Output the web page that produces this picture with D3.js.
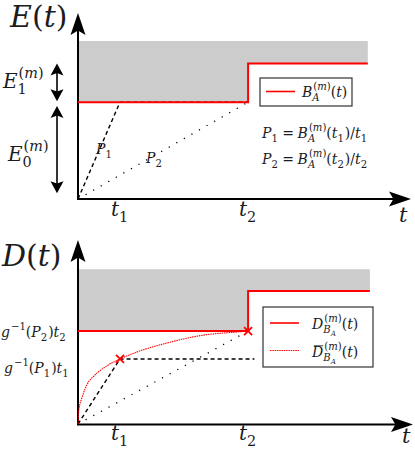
<!DOCTYPE html>
<html><head><meta charset="utf-8">
<script src="https://cdn.jsdelivr.net/npm/d3@7"></script>
<style>body{margin:0;background:#fff} svg{display:block} text{font-family:"DejaVu Serif",serif}</style>
</head><body>
<script>
// values (time and levels in arbitrary units)
const tMarks = [1, 4.05];          // t1, t2
const tNames = ["1", "2"];
// upper panel: B_A^(m)(t) step and the capacity band
const eStep = [[0, 5], [4.05, 5], [4.05, 7], [6.9, 7]];
const eCap = 8.15;
const eP1 = [[0, 0], [1, 5], [4.05, 5]];
const eP2 = [[0, 0], [4.05, 5]];
const eArrows = [[7, 5.05], [4.8, 0.3]];   // E1, E0 spans
// lower panel: D_BA^(m)(t), its smooth version and the two rates
const dStep = [[0, 5], [4.05, 5], [4.05, 7.15], [6.95, 7.15]];
const dCap = 8.33;
const dBar = [[0, 0], [0.02, 0.75], [0.1, 1.45], [0.21, 2.1], [0.4, 2.63], [0.6, 3.0],
  [1, 3.5], [1.4, 3.87], [2.19, 4.4], [2.98, 4.78], [3.79, 4.95], [4.05, 5]];
const dP1 = [[0, 0], [1, 3.5], [4.2, 3.5]];
const dP2 = [[0, 0], [4.05, 5]];
const dCross = [[1, 3.5], [4.05, 5]];
const dLevels = [5, 3.5];          // g^-1(P2)t2, g^-1(P1)t1

const W = 415, H = 449;
const RED = "#ff0000", GRAY = "#cccccc";

const svg = d3.select("body").append("svg").attr("width", W).attr("height", H);

const x = d3.scaleLinear().domain([0, 8]).range([78, 414]);
const yE = d3.scaleLinear().domain([0, 9.6]).range([199, 13]);
const yD = d3.scaleLinear().domain([0, 9.9]).range([424, 240]);

// --- small math-text layout helper ---
const i = s => ({t: s, i: true});
const n = s => ({t: s});
const ss = (sub, sup) => ({sub, sup});
const gap = k => ({gap: k});
const M = [n("("), i("m"), n(")")];

function put(g, px, py, s, fs, italic) {
  const t = g.append("text").attr("x", px).attr("y", py)
    .attr("font-size", fs)
    .attr("font-style", italic ? "italic" : "normal")
    .attr("fill", "#1c1c1c").text(s);
  return t.node().getComputedTextLength();
}
function layout(g, items, px, py, fs) {
  let cx = px;
  for (const it of items) {
    if (it.gap) { cx += it.gap * fs; continue; }
    if (it.sub || it.sup) {
      let w = 0;
      if (it.sup) w = Math.max(w, layout(g, it.sup, cx + 1, py - fs * 0.5, fs * 0.72));
      if (it.sub) w = Math.max(w, layout(g, it.sub, cx, py + fs * 0.28, fs * 0.72));
      cx += w + 1;
    } else {
      const w = put(g, cx, py, it.t, fs, it.i);
      if (it.bar) g.append("line").attr("x1", cx + 2).attr("x2", cx + w)
        .attr("y1", py - fs * 0.8).attr("y2", py - fs * 0.8)
        .attr("stroke", "#111").attr("stroke-width", 0.8);
      cx += w;
    }
  }
  return cx - px;
}
function mathLabel(px, py, items, fs, anchor) {
  const g = svg.append("g");
  const w = layout(g, items, 0, 0, fs);
  const dx = anchor === "middle" ? -w / 2 : anchor === "end" ? -w : 0;
  g.attr("transform", `translate(${px + dx},${py})`);
}

function arrowHead(px, py, dir, len, hw) {
  const p = dir === "up" ? [[px, py], [px - hw, py + len], [px, py + len * 0.8], [px + hw, py + len]]
    : dir === "down" ? [[px, py], [px - hw, py - len], [px, py - len * 0.8], [px + hw, py - len]]
    : [[px, py], [px - len, py - hw], [px - len * 0.8, py], [px - len, py + hw]];
  svg.append("path").attr("d", d3.line()(p) + "Z").attr("fill", "#000");
}

const line = (ys) => d3.line().x(d => x(d[0])).y(d => ys(d[1]));

function panel(ys, step, cap, top, bottomY, axisEnd) {
  // capacity band above the step
  svg.append("path").datum(step)
    .attr("d", d3.area().x(d => x(d[0])).y0(ys(cap)).y1(d => ys(d[1])))
    .attr("fill", GRAY);
  // axes
  svg.append("line").attr("x1", x(0)).attr("x2", x(0)).attr("y1", bottomY).attr("y2", top + 15)
    .attr("stroke", "#000").attr("stroke-width", 2);
  svg.append("line").attr("x1", x(0) - 1).attr("x2", axisEnd - 15).attr("y1", bottomY).attr("y2", bottomY)
    .attr("stroke", "#000").attr("stroke-width", 2);
  arrowHead(x(0), top, "up", 22, 7.5);
  arrowHead(axisEnd, bottomY, "right", 22, 7.5);
}

// ---------- upper panel ----------
panel(yE, eStep, eCap, 13, 199, 411);
svg.append("path").datum(eP1).attr("d", line(yE)).attr("fill", "none")
  .attr("stroke", "#000").attr("stroke-width", 1.4).attr("stroke-dasharray", "4,3");
svg.append("path").datum(eP2).attr("d", line(yE)).attr("fill", "none")
  .attr("stroke", "#000").attr("stroke-width", 1.3).attr("stroke-dasharray", "1.2,7.5");
svg.append("path").datum(eStep).attr("d", line(yE)).attr("fill", "none")
  .attr("stroke", RED).attr("stroke-width", 2);

// E1 / E0 double arrows
eArrows.forEach(([a, b]) => {
  const y1 = yE(a), y2 = yE(b);
  svg.append("line").attr("x1", 57).attr("x2", 57).attr("y1", y1 + 8).attr("y2", y2 - 8)
    .attr("stroke", "#000").attr("stroke-width", 1.6);
  arrowHead(57, y1, "up", 12, 6.5);
  arrowHead(57, y2, "down", 12, 6.5);
});

mathLabel(10, 27, [i("E"), n("("), i("t"), n(")")], 30);
mathLabel(3, 88, [i("E"), ss([n("1")], M)], 20);
mathLabel(8, 161, [i("E"), ss([n("0")], M)], 20);
mathLabel(96, 154, [i("P"), ss([n("1")])], 14);
mathLabel(146, 163, [i("P"), ss([n("2")])], 14);

tMarks.forEach((t, k) => {
  mathLabel(x(t), 216, [i("t"), ss([n(tNames[k])])], 20, "middle");
  mathLabel(x(t), 440, [i("t"), ss([n(tNames[k])])], 20, "middle");
});
mathLabel(399, 222, [i("t")], 21);
mathLabel(402, 443, [i("t")], 21);

// legend (upper)
svg.append("rect").attr("x", 260).attr("y", 78).attr("width", 92).attr("height", 28)
  .attr("fill", "#fff").attr("stroke", "#333").attr("stroke-width", 1.2);
svg.append("line").attr("x1", 266).attr("x2", 295).attr("y1", 91.5).attr("y2", 91.5)
  .attr("stroke", RED).attr("stroke-width", 1.6);
mathLabel(302, 97, [i("B"), ss([i("A")], M), n("("), i("t"), n(")")], 14);

[["1", 138], ["2", 164]].forEach(([k, yy]) => {
  mathLabel(262, yy, [i("P"), ss([n(k)]), gap(0.25), n("="), gap(0.25), i("B"), ss([i("A")], M),
    n("("), i("t"), ss([n(k)]), n(")/"), i("t"), ss([n(k)])], 14);
});

// ---------- lower panel ----------
panel(yD, dStep, dCap, 240, 424.5, 413);
svg.append("path").datum(dP2).attr("d", line(yD)).attr("fill", "none")
  .attr("stroke", "#000").attr("stroke-width", 1.3).attr("stroke-dasharray", "1.2,7.5");
svg.append("path").datum(dP1).attr("d", line(yD)).attr("fill", "none")
  .attr("stroke", "#000").attr("stroke-width", 1.4).attr("stroke-dasharray", "4,3");
svg.append("path").datum(dBar).attr("d", line(yD).curve(d3.curveMonotoneX)).attr("fill", "none")
  .attr("stroke", RED).attr("stroke-width", 1.1).attr("stroke-dasharray", "1.5,0.8");
svg.append("path").datum(dStep).attr("d", line(yD)).attr("fill", "none")
  .attr("stroke", RED).attr("stroke-width", 2);
svg.selectAll(".cross").data(dCross).join("path").attr("class", "cross")
  .attr("d", d => { const cx = x(d[0]), cy = yD(d[1]), r = 4;
    return `M${cx - r},${cy - r}L${cx + r},${cy + r}M${cx - r},${cy + r}L${cx + r},${cy - r}`; })
  .attr("stroke", RED).attr("stroke-width", 1.8);

mathLabel(2, 266, [i("D"), n("("), i("t"), n(")")], 30);
mathLabel(1, yD(dLevels[0]) + 6, [i("g"), ss(null, [n("−1")]), n("("), i("P"), ss([n("2")]), n(")"), i("t"), ss([n("2")])], 14);
mathLabel(4, yD(dLevels[1]) + 14, [i("g"), ss(null, [n("−1")]), n("("), i("P"), ss([n("1")]), n(")"), i("t"), ss([n("1")])], 14);

// legend (lower)
svg.append("rect").attr("x", 263).attr("y", 307).attr("width", 110).attr("height", 60)
  .attr("fill", "#fff").attr("stroke", "#333").attr("stroke-width", 1.2);
svg.append("line").attr("x1", 270).attr("x2", 299).attr("y1", 323).attr("y2", 323)
  .attr("stroke", RED).attr("stroke-width", 1.6);
svg.append("line").attr("x1", 270).attr("x2", 299).attr("y1", 350.5).attr("y2", 350.5)
  .attr("stroke", RED).attr("stroke-width", 1.1).attr("stroke-dasharray", "1.5,0.8");
const DB = ss([i("B"), ss([i("A")])], M);
mathLabel(312, 329, [i("D"), DB, n("("), i("t"), n(")")], 14);
mathLabel(312, 357, [{t: "D", i: true, bar: true}, DB, n("("), i("t"), n(")")], 14);
</script>
</body></html>
